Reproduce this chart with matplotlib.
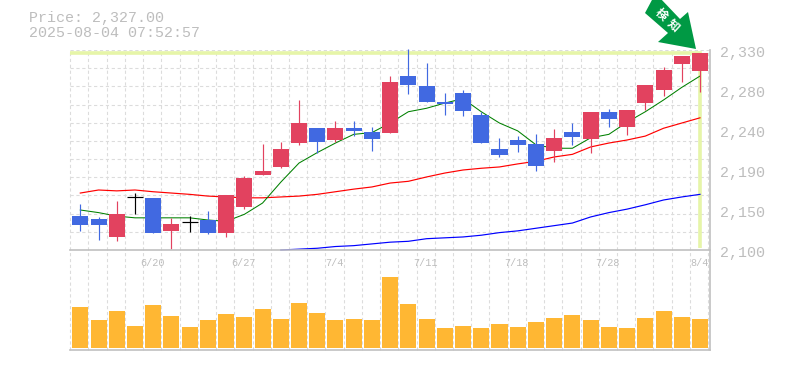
import matplotlib
matplotlib.use("Agg")
import matplotlib.pyplot as plt
from matplotlib.patches import Polygon
from matplotlib.transforms import blended_transform_factory

open_ = [2139,2136,2115,2161,2160,2122,2132,2134,2120,2149,2186,2195,2223,2240,2226,2240,2236,2235,2300,2289,2270,2281,2255,2216,2227,2222,2214,2236,2228,2259,2241,2269,2284,2314,2306]
close = [2129,2129,2141,2161,2120,2130,2132,2120,2163,2183,2191,2216,2246,2224,2240,2237,2228,2293,2290,2270,2268,2260,2223,2209,2221,2197,2229,2230,2259,2251,2261,2290,2307,2323,2327]
high  = [2153,2138,2156,2166,2160,2137,2139,2145,2163,2185,2222,2224,2272,2240,2248,2248,2241,2300,2331,2315,2281,2284,2259,2229,2231,2233,2239,2246,2259,2262,2261,2290,2310,2323,2327]
low   = [2122,2112,2110,2141,2120,2101,2121,2118,2115,2147,2186,2194,2221,2212,2224,2231,2214,2235,2279,2270,2255,2254,2223,2207,2213,2191,2201,2221,2212,2241,2232,2261,2277,2293,2282]
ma_short = [2146,2143,2139,2137,2137,2137,2137,2134.5,2133,2141,2154,2178,2200,2212,2223,2233,2235,2246,2259,2263,2269,2274,2259,2246,2237,2221,2217,2217,2229,2233,2247,2259,2272.5,2287,2300]
ma_mid = [2165.5,2169,2168,2169,2167,2165.5,2164,2162,2161,2160,2160,2161,2162,2164,2167,2170,2172.5,2177,2179,2184,2188.5,2192,2194,2195.5,2199,2202,2207,2210,2218.5,2223,2226.5,2231,2240,2246,2252]
ma_long = [2100,2101,2102,2104,2105,2107,2109,2110,2113,2114,2115,2117,2120,2122,2125,2128,2131,2138,2143,2147,2152,2157.5,2161,2164]
volume = [123,84,111,66,129,96,63,84,102,93,117,87,135,105,84,87,84,213,132,87,60,66,60,72,63,78,90,99,84,63,60,90,111,93,87]
price_ticks = [2330,2284,2238,2192,2146,2100]
price_labels = ["2,330","2,280","2,240","2,190","2,150","2,100"]
date_idx = [4,9,14,19,24,29,34]
date_labels = ["6/20","6/27","7/4","7/11","7/18","7/28","8/4"]
last_price = 2327
title_lines = ["Price: 2,327.00","2025-08-04 07:52:57"]
badge_chars = ["検","知"]

W,H = 785,370
GRID="#dcdcdc"; TXT="#bdbdbd"; FRAME="#c0c0c0"
UP="#e2425f"; DOWN="#4169e1"; DOJI="#000000"; HL="#e6f5a8"; VOL="#ffb733"; ARROW="#009944"
MONO="Liberation Mono"
DASH=(0,(2.9,2.4))

fig = plt.figure(figsize=(W/100,H/100),dpi=100,facecolor="white")
def axpx(l,t,r,b):
    return fig.add_axes([l/W,1-b/H,(r-l)/W,(b-t)/H])
ax = axpx(70,50,710,250)
av = axpx(70,250,710,350)
XL = (-0.565,34.55)
n = len(close)
xs = list(range(n))
grid_x = [k-0.55 for k in range(0,n+1)]
for a in (ax,av):
    a.set_xlim(*XL)
    a.set_xticks([]); a.set_yticks([])
    a.patch.set_alpha(0)
    for s in a.spines.values():
        s.set_visible(False)
    a.vlines(grid_x,0,1,transform=a.get_xaxis_transform(),color=GRID,lw=0.8,ls=DASH,zorder=0,clip_on=False)
ax.set_ylim(2100,2330)
step=230/11
ax.hlines([2100+step*k for k in range(1,12)],0,1,transform=ax.get_yaxis_transform(),color=GRID,lw=0.8,ls=DASH,zorder=0)

# last price marker
ax.plot([XL[0],34,34],[last_price,last_price,2102],color=HL,lw=2.6,solid_joinstyle="miter",solid_capstyle="butt",zorder=1)

# moving averages sit behind the candles
ax.plot(xs,ma_mid,color="#ff0000",lw=0.85,zorder=2)
ax.plot(xs,ma_short,color="#008000",lw=0.75,zorder=2)
ax.plot(xs[n-len(ma_long):],ma_long,color="#0000ff",lw=0.85,zorder=2,clip_on=False)

for i in xs:
    o,c,h,l = open_[i],close[i],high[i],low[i]
    col = DOJI if o==c else (UP if c>o else DOWN)
    ax.plot([i,i],[l,h],color=col,lw=0.85,zorder=3,clip_on=False,solid_capstyle="butt")
    if o==c:
        ax.plot([i-0.44,i+0.44],[o,o],color=col,lw=0.85,zorder=4,solid_capstyle="butt")
    else:
        ax.bar(i,abs(c-o),bottom=min(o,c),width=0.88,color=col,lw=0,zorder=4)

av.set_ylim(-6,294)
av.bar(xs,volume,width=0.88,color=VOL,lw=0,zorder=2)

# frame
for (x0,y0,x1,y1) in [(70,250,710,250),(70,349.7,710,349.7),(710,50,710,350)]:
    fig.add_artist(plt.Line2D([x0/W,x1/W],[1-y0/H,1-y1/H],color=FRAME,lw=1.2,transform=fig.transFigure))

# labels
for v,s in zip(price_ticks,price_labels):
    ax.annotate(s,(1,v),xycoords=ax.get_yaxis_transform(),xytext=(7.2,-2.2),textcoords="offset points",
                color=TXT,family=MONO,fontsize=10.8,va="center",ha="left",annotation_clip=False)
tr = blended_transform_factory(av.transData,av.transAxes)
for i,s in zip(date_idx,date_labels):
    av.text(i-0.05,0.875,s,transform=tr,color=TXT,family=MONO,fontsize=7.3,ha="center",va="center",zorder=1)
fig.text(29/W,1-18/H,title_lines[0],color=TXT,family=MONO,fontsize=10.8,va="center",ha="left")
fig.text(29/W,1-33/H,title_lines[1],color=TXT,family=MONO,fontsize=10.8,va="center",ha="left")

# badge arrow
pts=[(653,-2),(645,13),(668,33),(658,42),(696,49),(688,12),(680,19),(660,-2)]
fig.add_artist(Polygon([(x/W,1-y/H) for x,y in pts],closed=True,transform=fig.transFigure,fc=ARROW,ec="none",zorder=5))
for (cx,cy),ch in zip([(661,15),(673,25)],badge_chars):
    fig.text(cx/W,1-cy/H,ch,color="white",family=["Noto Sans CJK JP","DejaVu Sans"],fontsize=8.5,fontweight="bold",
             rotation=-42,rotation_mode="anchor",ha="center",va="center",zorder=6)

fig.savefig("out.png",dpi=100)
